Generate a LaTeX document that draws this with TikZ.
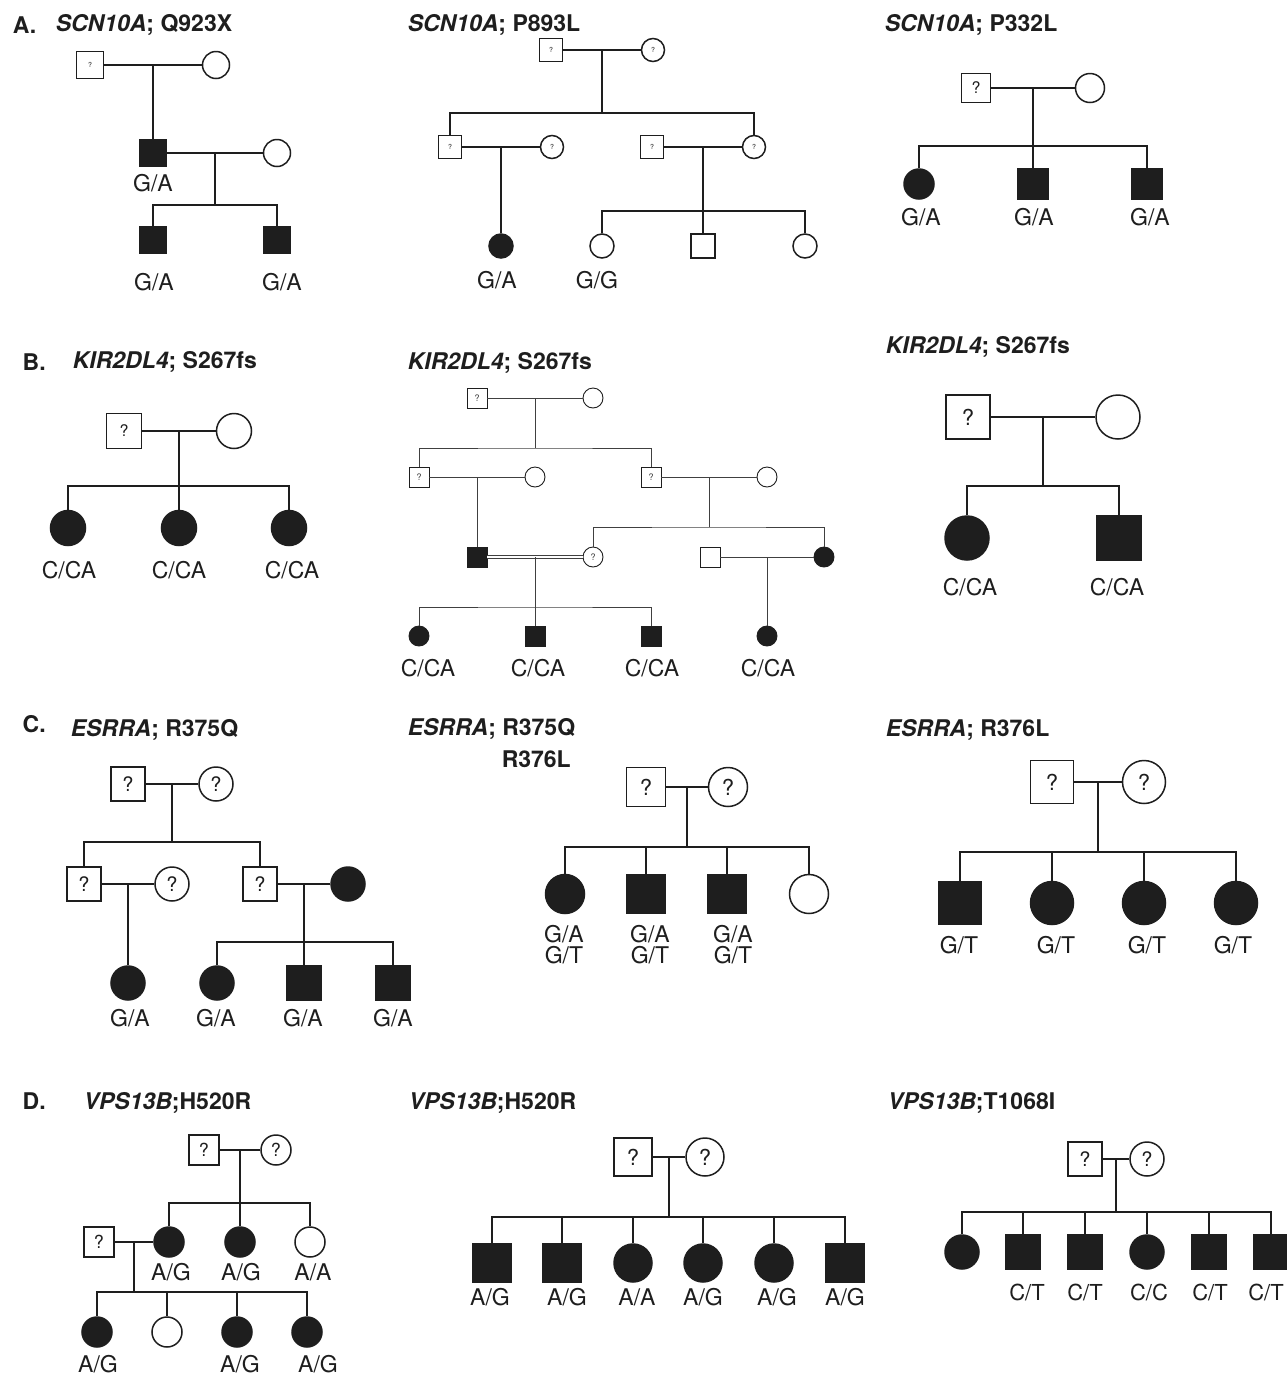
\documentclass[tikz,border=0pt]{standalone}
\usepackage{fontspec}
\setmainfont{TeX Gyre Heros}
\usetikzlibrary{positioning,calc}
\definecolor{pedInk}{HTML}{1E1E1E}

\tikzset{
  symsz/.store in=\symsz, symsz=27pt,
  qsz/.store in=\qsz, qsz=7,
  male/.style={draw=pedInk, rectangle, minimum size=\symsz, inner sep=0pt},
  female/.style={draw=pedInk, circle, minimum size=\symsz, inner sep=0pt},
  aff/.style={fill=pedInk},
  unk/.style={font=\fontsize{\qsz}{\qsz}\selectfont},
  gt/.style={font=\fontsize{23}{21}\selectfont, inner sep=0pt, align=center},
  ttl/.style={font=\fontsize{23}{24}\selectfont\bfseries, anchor=west, inner sep=0pt},
}

\begin{document}
\begin{tikzpicture}[x=1pt, y=-1pt, line width=1.5pt, color=pedInk]
  \fill[white] (0,0) rectangle (1287,1377);
  \useasboundingbox (0,0) rectangle (1287,1377);

  % ---- A ----
  \node[ttl] (tA) at (12,25) {A.};
  \node[ttl] (tA1) at (55,25) {\textit{SCN10A}; Q923X};
  \node[ttl] (tA2) at (407,25) {\textit{SCN10A}; P893L};
  \node[ttl] (tA3) at (884,25) {\textit{SCN10A}; P332L};

  \begin{scope}[symsz=27pt, qsz=7]
    \node[male, unk] (a1f) at (90,65) {?};
    \node[female] (a1m) at (216,65) {};
    \node[male, aff] (a1s) at (153,153) {};
    \node[female] (a1w) at (277,153) {};
    \node[male, aff] (a1c1) at (153,240) {};
    \node[male, aff] (a1c2) at (277,240) {};
    \coordinate (a1j1) at ($(a1f)!.5!(a1m)$);
    \coordinate (a1j2) at ($(a1s)!.5!(a1w)$);
    \coordinate (a1sib) at (215,205);
    \draw (a1f) -- (a1m);
    \draw (a1j1) -- (a1s);
    \draw (a1s) -- (a1w);
    \draw (a1j2) -- (a1sib);
    \draw (a1c1) |- (a1sib) -| (a1c2);
    \node[gt] (a1l0) at (153,183) {G/A};
    \node[gt] (a1l1) at (154,282) {G/A};
    \node[gt] (a1l2) at (282,282) {G/A};
  \end{scope}

  \begin{scope}[symsz=23pt, qsz=7]
    \node[male, unk] (a2f) at (551,50) {?};
    \node[female, unk] (a2m) at (653,50) {?};
    \node[male, unk] (a2p1) at (450,147) {?};
    \node[female, unk] (a2p1w) at (552,147) {?};
    \node[male, unk] (a2p2h) at (652,147) {?};
    \node[female, unk] (a2p2) at (754,147) {?};
    \coordinate (a2j1) at ($(a2f)!.5!(a2m)$);
    \coordinate (a2sib1) at (602,113);
    \coordinate (a2j2) at ($(a2p1)!.5!(a2p1w)$);
    \coordinate (a2j3) at ($(a2p2h)!.5!(a2p2)$);
    \coordinate (a2sib3) at (703,211);
    \draw (a2f) -- (a2m);
    \draw (a2j1) -- (a2sib1);
    \draw (a2p1) |- (a2sib1) -| (a2p2);
    \draw (a2p1) -- (a2p1w);
    \draw (a2p2h) -- (a2p2);
    \begin{scope}[symsz=24pt]
      \node[female, aff] (a2c1) at (501,246) {};
      \node[female] (a2c2) at (602,246) {};
      \node[male] (a2c3) at (703,246) {};
      \node[female] (a2c4) at (805,246) {};
    \end{scope}
    \draw (a2j2) -- (a2c1);
    \draw (a2j3) -- (a2sib3);
    \draw (a2c2) |- (a2sib3) -| (a2c4);
    \draw (a2c3) -- (a2sib3);
    \node[gt] (a2l1) at (497,280) {G/A};
    \node[gt] (a2l2) at (597,280) {G/G};
  \end{scope}

  \begin{scope}[symsz=29pt, qsz=16]
    \node[male, unk] (a3f) at (976,88) {?};
    \node[female] (a3m) at (1090,88) {};
    \coordinate (a3j) at ($(a3f)!.5!(a3m)$);
    \coordinate (a3sib) at (1033,146);
    \begin{scope}[symsz=30pt]
      \node[female, aff] (a3c1) at (919,184) {};
      \node[male, aff] (a3c2) at (1033,184) {};
      \node[male, aff] (a3c3) at (1147,184) {};
    \end{scope}
    \draw (a3f) -- (a3m);
    \draw (a3j) -- (a3sib);
    \draw (a3c1) |- (a3sib) -| (a3c3);
    \draw (a3c2) -- (a3sib);
    \node[gt] (a3l1) at (921,217) {G/A};
    \node[gt] (a3l2) at (1034,217) {G/A};
    \node[gt] (a3l3) at (1150,217) {G/A};
  \end{scope}

  % ---- B ----
  \node[ttl] (tB) at (22,362) {B.};
  \node[ttl] (tB1) at (72,362) {\textit{KIR2DL4}; S267fs};
  \node[ttl] (tB2) at (407,363) {\textit{KIR2DL4}; S267fs};
  \node[ttl] (tB3) at (885,347) {\textit{KIR2DL4}; S267fs};

  \begin{scope}[symsz=35pt, qsz=16]
    \node[male, unk] (b1f) at (124,431) {?};
    \node[female] (b1m) at (234,431) {};
    \coordinate (b1j) at ($(b1f)!.5!(b1m)$);
    \coordinate (b1sib) at (179,486);
    \node[female, aff] (b1c1) at (68,528) {};
    \node[female, aff] (b1c2) at (179,528) {};
    \node[female, aff] (b1c3) at (289,528) {};
    \draw (b1f) -- (b1m);
    \draw (b1j) -- (b1sib);
    \draw (b1c1) |- (b1sib) -| (b1c3);
    \draw (b1c2) -- (b1sib);
    \node[gt] (b1l1) at (69,570) {C/CA};
    \node[gt] (b1l2) at (179,570) {C/CA};
    \node[gt] (b1l3) at (292,570) {C/CA};
  \end{scope}

  \begin{scope}[symsz=20pt, qsz=9, line width=0.9pt, color=black!75]
    \node[male, unk] (b2f) at (477,398) {?};
    \node[female] (b2m) at (593,398) {};
    \node[male, unk] (b2a) at (419,477) {?};
    \node[female] (b2aw) at (535,477) {};
    \node[male, unk] (b2b) at (651,477) {?};
    \node[female] (b2bw) at (767,477) {};
    \node[male, aff] (b2c) at (477,557) {};
    \node[female, unk] (b2d) at (593,557) {?};
    \node[male] (b2h) at (710,557) {};
    \node[female, aff] (b2e) at (824,557) {};
    \node[female, aff] (b2g1) at (419,636) {};
    \node[male, aff] (b2g2) at (535,636) {};
    \node[male, aff] (b2g3) at (651,636) {};
    \node[female, aff] (b2g4) at (767,636) {};
    \coordinate (b2j1) at ($(b2f)!.5!(b2m)$);
    \coordinate (b2sib1) at (535,448);
    \coordinate (b2j2) at ($(b2a)!.5!(b2aw)$);
    \coordinate (b2j3) at ($(b2b)!.5!(b2bw)$);
    \coordinate (b2sib3) at (709,527);
    \coordinate (b2j4) at ($(b2c)!.5!(b2d)$);
    \coordinate (b2sib4) at (535,607);
    \coordinate (b2j5) at ($(b2h)!.5!(b2e)$);
    \draw (b2f) -- (b2m);
    \draw (b2j1) -- (b2sib1);
    \draw (b2a) |- (b2sib1) -| (b2b);
    \draw (b2a) -- (b2aw);
    \draw (b2b) -- (b2bw);
    \draw (b2j2) -- (b2c);
    \draw (b2j3) -- (b2sib3);
    \draw (b2d) |- (b2sib3) -| (b2e);
    \draw[double=white, double distance=1.8pt, line width=0.8pt] (b2c) -- (b2d);
    \draw (b2h) -- (b2e);
    \draw (b2j4) -- (b2sib4);
    \draw (b2g1) |- (b2sib4) -| (b2g3);
    \draw (b2g2) -- (b2sib4);
    \draw (b2j5) -- (b2g4);
  \end{scope}
  \node[gt] (b2l1) at (428,668) {C/CA};
  \node[gt] (b2l2) at (538,668) {C/CA};
  \node[gt] (b2l3) at (652,668) {C/CA};
  \node[gt] (b2l4) at (768,668) {C/CA};

  \begin{scope}[symsz=44pt, qsz=22]
    \node[male, unk] (b3f) at (968,417) {?};
    \node[female] (b3m) at (1118,417) {};
    \coordinate (b3j) at ($(b3f)!.5!(b3m)$);
    \coordinate (b3sib) at (1043,486);
    \node[female, aff] (b3c1) at (967,538) {};
    \node[male, aff] (b3c2) at (1119,538) {};
    \draw (b3f) -- (b3m);
    \draw (b3j) -- (b3sib);
    \draw (b3c1) |- (b3sib) -| (b3c2);
    \node[gt] (b3l1) at (970,587) {C/CA};
    \node[gt] (b3l2) at (1117,587) {C/CA};
  \end{scope}

  % ---- C ----
  \node[ttl] (tC) at (22,724) {C.};
  \node[ttl] (tC1) at (70,730) {\textit{ESRRA}; R375Q};
  \node[ttl] (tC2) at (407,729) {\textit{ESRRA}; R375Q};
  \node[ttl] (tC2b) at (501,759) {R376L};
  \node[ttl] (tC3) at (885,730) {\textit{ESRRA}; R376L};

  \begin{scope}[symsz=34pt, qsz=20]
    \node[male, unk] (c1f) at (128,784) {?};
    \node[female, unk] (c1m) at (216,784) {?};
    \node[male, unk] (c1a) at (84,884) {?};
    \node[female, unk] (c1aw) at (172,884) {?};
    \node[male, unk] (c1b) at (260,884) {?};
    \node[female, aff] (c1bw) at (348,884) {};
    \node[female, aff] (c1g1) at (128,983) {};
    \node[female, aff] (c1g2) at (217,983) {};
    \node[male, aff] (c1g3) at (304,983) {};
    \node[male, aff] (c1g4) at (393,983) {};
    \coordinate (c1j1) at ($(c1f)!.5!(c1m)$);
    \coordinate (c1sib1) at (172,842);
    \coordinate (c1j2) at ($(c1a)!.5!(c1aw)$);
    \coordinate (c1j3) at ($(c1b)!.5!(c1bw)$);
    \coordinate (c1sib3) at (304,942);
    \draw (c1f) -- (c1m);
    \draw (c1j1) -- (c1sib1);
    \draw (c1a) |- (c1sib1) -| (c1b);
    \draw (c1a) -- (c1aw);
    \draw (c1b) -- (c1bw);
    \draw (c1j2) -- (c1g1);
    \draw (c1j3) -- (c1sib3);
    \draw (c1g2) |- (c1sib3) -| (c1g4);
    \draw (c1g3) -- (c1sib3);
    \node[gt] (c1l1) at (130,1018) {G/A};
    \node[gt] (c1l2) at (216,1018) {G/A};
    \node[gt] (c1l3) at (303,1018) {G/A};
    \node[gt] (c1l4) at (393,1018) {G/A};
  \end{scope}

  \begin{scope}[symsz=39pt, qsz=22]
    \node[male, unk] (c2f) at (646,787) {?};
    \node[female, unk] (c2m) at (728,787) {?};
    \coordinate (c2j) at ($(c2f)!.5!(c2m)$);
    \coordinate (c2sib) at (687,847);
    \node[female, aff] (c2c1) at (565,894) {};
    \node[male, aff] (c2c2) at (646,894) {};
    \node[male, aff] (c2c3) at (727,894) {};
    \node[female] (c2c4) at (809,894) {};
    \draw (c2f) -- (c2m);
    \draw (c2j) -- (c2sib);
    \draw (c2c1) |- (c2sib) -| (c2c4);
    \foreach \c in {c2c2,c2c3} \draw (\c) -- (\c |- c2sib);
    \node[gt] (c2l1) at (564,945) {G/A\\G/T};
    \node[gt] (c2l2) at (650,945) {G/A\\G/T};
    \node[gt] (c2l3) at (733,945) {G/A\\G/T};
  \end{scope}

  \begin{scope}[symsz=43pt, qsz=22]
    \node[male, unk] (c3f) at (1052,782) {?};
    \node[female, unk] (c3m) at (1144,782) {?};
    \coordinate (c3j) at ($(c3f)!.5!(c3m)$);
    \coordinate (c3sib) at (1098,852);
    \node[male, aff] (c3c1) at (960,903) {};
    \node[female, aff] (c3c2) at (1052,903) {};
    \node[female, aff] (c3c3) at (1144,903) {};
    \node[female, aff] (c3c4) at (1236,903) {};
    \draw (c3f) -- (c3m);
    \draw (c3j) -- (c3sib);
    \draw (c3c1) |- (c3sib) -| (c3c4);
    \foreach \c in {c3c2,c3c3} \draw (\c) -- (\c |- c3sib);
    \node[gt] (c3l1) at (959,945) {G/T};
    \node[gt] (c3l2) at (1056,945) {G/T};
    \node[gt] (c3l3) at (1147,945) {G/T};
    \node[gt] (c3l4) at (1233,945) {G/T};
  \end{scope}

  % ---- D ----
  \node[ttl] (tD) at (22,1101) {D.};
  \node[ttl] (tD1) at (83,1103) {\textit{VPS13B};H520R};
  \node[ttl] (tD2) at (408,1103) {\textit{VPS13B};H520R};
  \node[ttl] (tD3) at (887,1103) {\textit{VPS13B};T1068I};

  \begin{scope}[symsz=30pt, qsz=18]
    \node[male, unk] (d1f) at (204,1150) {?};
    \node[female, unk] (d1m) at (276,1150) {?};
    \node[male, unk] (d1h) at (99,1242) {?};
    \node[female, aff] (d1a) at (169,1242) {};
    \node[female, aff] (d1b) at (240,1242) {};
    \node[female] (d1c) at (310,1242) {};
    \node[female, aff] (d1g1) at (97,1332) {};
    \node[female] (d1g2) at (167,1332) {};
    \node[female, aff] (d1g3) at (237,1332) {};
    \node[female, aff] (d1g4) at (307,1332) {};
    \coordinate (d1j1) at ($(d1f)!.5!(d1m)$);
    \coordinate (d1sib1) at (240,1203);
    \coordinate (d1j2) at ($(d1h)!.5!(d1a)$);
    \coordinate (d1sib2) at (134,1292);
    \draw (d1f) -- (d1m);
    \draw (d1j1) -- (d1sib1);
    \draw (d1a) |- (d1sib1) -| (d1c);
    \draw (d1b) -- (d1b |- d1sib1);
    \draw (d1h) -- (d1a);
    \draw (d1j2) -- (d1sib2);
    \draw (d1g1) |- (d1sib2) -| (d1g4);
    \foreach \c in {d1g2,d1g3} \draw (\c) -- (\c |- d1sib2);
    \node[gt] (d1l1) at (171,1272) {A/G};
    \node[gt] (d1l2) at (241,1272) {A/G};
    \node[gt] (d1l3) at (313,1272) {A/A};
    \node[gt] (d1l4) at (98,1364) {A/G};
    \node[gt] (d1l5) at (240,1364) {A/G};
    \node[gt] (d1l6) at (318,1364) {A/G};
  \end{scope}

  \begin{scope}[symsz=38pt, qsz=22]
    \node[male, unk] (d2f) at (633,1157) {?};
    \node[female, unk] (d2m) at (705,1157) {?};
    \coordinate (d2j) at ($(d2f)!.5!(d2m)$);
    \coordinate (d2sib) at (669,1217);
    \node[male, aff] (d2c1) at (492,1263) {};
    \node[male, aff] (d2c2) at (562,1263) {};
    \node[female, aff] (d2c3) at (633,1263) {};
    \node[female, aff] (d2c4) at (703,1263) {};
    \node[female, aff] (d2c5) at (774,1263) {};
    \node[male, aff] (d2c6) at (845,1263) {};
    \draw (d2f) -- (d2m);
    \draw (d2j) -- (d2sib);
    \draw (d2c1) |- (d2sib) -| (d2c6);
    \foreach \c in {d2c2,d2c3,d2c4,d2c5} \draw (\c) -- (\c |- d2sib);
    \node[gt] (d2l1) at (490,1297) {A/G};
    \node[gt] (d2l2) at (567,1297) {A/G};
    \node[gt] (d2l3) at (637,1297) {A/A};
    \node[gt] (d2l4) at (703,1297) {A/G};
    \node[gt] (d2l5) at (777,1297) {A/G};
    \node[gt] (d2l6) at (845,1297) {A/G};
  \end{scope}

  \begin{scope}[symsz=34pt, qsz=20]
    \node[male, unk] (d3f) at (1085,1159) {?};
    \node[female, unk] (d3m) at (1147,1159) {?};
    \coordinate (d3j) at ($(d3f)!.5!(d3m)$);
    \coordinate (d3sib) at (1116,1212);
    \node[female, aff] (d3c1) at (962,1252) {};
    \node[male, aff] (d3c2) at (1023,1252) {};
    \node[male, aff] (d3c3) at (1085,1252) {};
    \node[female, aff] (d3c4) at (1147,1252) {};
    \node[male, aff] (d3c5) at (1209,1252) {};
    \node[male, aff] (d3c6) at (1271,1252) {};
    \draw (d3f) -- (d3m);
    \draw (d3j) -- (d3sib);
    \draw (d3c1) |- (d3sib) -| (d3c6);
    \foreach \c in {d3c2,d3c3,d3c4,d3c5} \draw (\c) -- (\c |- d3sib);
    \node[gt, font=\fontsize{22}{20}\selectfont] (d3l1) at (1027,1292) {C/T};
    \node[gt, font=\fontsize{22}{20}\selectfont] (d3l2) at (1085,1292) {C/T};
    \node[gt, font=\fontsize{22}{20}\selectfont] (d3l3) at (1149,1292) {C/C};
    \node[gt, font=\fontsize{22}{20}\selectfont] (d3l4) at (1210,1292) {C/T};
    \node[gt, font=\fontsize{22}{20}\selectfont] (d3l5) at (1266,1292) {C/T};
  \end{scope}
\end{tikzpicture}
\end{document}
